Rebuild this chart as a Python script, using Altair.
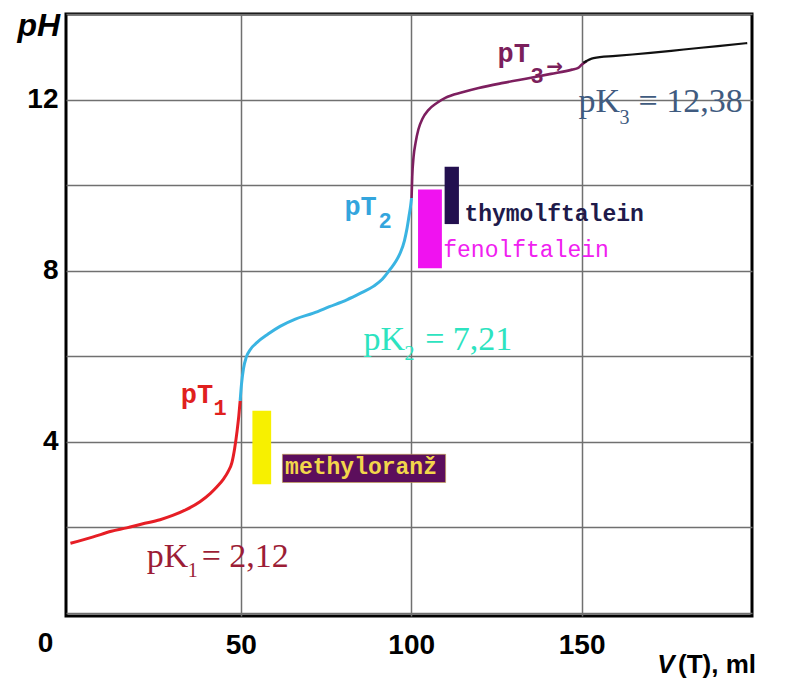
import altair as alt
import pandas as pd

# ---------------- data ----------------
# titration curve segments: volume V(T) in ml, pH
red_v = [0, 6.7, 12, 16.5, 21, 26.3, 30, 34.1, 38, 41, 43, 44.9, 46.3, 47.4, 48.2, 48.9, 49.4, 49.8]
red_ph = [1.63, 1.78, 1.91, 1.99, 2.08, 2.18, 2.28, 2.42, 2.6, 2.79, 2.95, 3.13, 3.31, 3.52, 3.85, 4.25, 4.6, 4.96]

cyan_v = [49.8, 50.2, 50.8, 51.6, 52.8, 54.7, 58, 61.5, 66, 71.3, 76, 81.1, 85, 89, 91.5, 93.8, 95.5, 96.8, 98, 98.7, 99.4, 99.8, 100.1]
cyan_ph = [4.96, 5.35, 5.72, 5.98, 6.16, 6.32, 6.52, 6.7, 6.87, 7.01, 7.16, 7.32, 7.47, 7.64, 7.8, 8.03, 8.22, 8.42, 8.7, 8.96, 9.3, 9.5, 9.7]

purple_v = [100.1, 100.3, 100.7, 101.3, 102.1, 103.3, 105.1, 107.5, 110, 115, 119.8, 127, 134.4, 141, 147.2, 149, 150.1, 151.5]
purple_ph = [9.7, 10.2, 10.67, 11.0, 11.3, 11.55, 11.76, 11.92, 12.04, 12.17, 12.27, 12.39, 12.5, 12.6, 12.7, 12.74, 12.82, 12.9]

black_v = [150.5, 153.5, 160, 170.2, 180, 190, 198.6]
black_ph = [12.86, 12.97, 13.02, 13.09, 13.17, 13.25, 13.32]

# indicator ranges (x from-to, pH from-to)
ind_names = ["methyloranž", "fenolftalein", "thymolftalein"]
ind_x1 = [53.4, 102.0, 109.8]
ind_x2 = [58.9, 109.0, 114.0]
ind_y1 = [3.01, 8.06, 9.09]
ind_y2 = [4.73, 9.90, 10.43]

# label box behind "methyloranž"
box_x = [62.2, 110.1]
box_y = [3.05, 3.71]

# axis ticks
x_ticks = [50, 100, 150]
y_grid = [0, 2, 4, 6, 8, 10, 12, 14]
y_labels = [4, 8, 12]

# ---------------- scales / encodings ----------------
XS = alt.Scale(domain=[-1.3, 200], nice=False, zero=False)
YS = alt.Scale(domain=[-0.07, 14], nice=False, zero=False)

x_axis = alt.Axis(values=x_ticks, title=None, grid=True, ticks=False, tickSize=0, domain=False,
                  labelFont="Liberation Sans", labelFontSize=28, labelFontWeight="bold",
                  labelColor="black", labelPadding=15, gridColor="#707070", gridWidth=1.5)
y_axis = alt.Axis(values=y_grid, grid=True, ticks=False, tickSize=0, domain=False,
                  labelExpr="indexof([4,8,12], datum.value) >= 0 ? datum.label : ''",
                  labelFont="Liberation Sans", labelFontSize=28, labelFontWeight="bold",
                  labelColor="black", labelPadding=8, gridColor="#707070", gridWidth=1.5,
                  title="pH", titleAngle=0, titleAlign="left", titleBaseline="alphabetic",
                  titleX=-49, titleY=21, titleFont="Liberation Sans", titleFontSize=32,
                  titleFontWeight="bold", titleFontStyle="italic", titleColor="black")


def xe(f):
    return alt.X(f, type="quantitative", scale=XS, axis=x_axis)


def ye(f):
    return alt.Y(f, type="quantitative", scale=YS, axis=y_axis)


layers = []

# grid carrier (axes)
layers.append(alt.Chart(pd.DataFrame({"x": [0], "y": [0]})).mark_point(opacity=0).encode(x=xe("x"), y=ye("y")))

# indicator bars
ind_df = pd.DataFrame({"name": ind_names, "x1": ind_x1, "x2": ind_x2, "y1": ind_y1, "y2": ind_y2})
layers.append(alt.Chart(ind_df).mark_rect().encode(
    x=xe("x1"), x2="x2", y=ye("y1"), y2="y2",
    color=alt.Color("name:N", scale=alt.Scale(domain=ind_names, range=["#f7f000", "#f012f0", "#23104f"]), legend=None)))

# box behind methyloranž label
box_df = pd.DataFrame({"x1": [box_x[0]], "x2": [box_x[1]], "y1": [box_y[0]], "y2": [box_y[1]]})
layers.append(alt.Chart(box_df).mark_rect(color="#5c0e5c", stroke="#c9a94a", strokeWidth=0.6).encode(
    x=xe("x1"), x2="x2", y=ye("y1"), y2="y2"))

# curve segments
for vs, ps, col, w in [(red_v, red_ph, "#e61e25", 3), (cyan_v, cyan_ph, "#3ab4e2", 3),
                       (purple_v, purple_ph, "#7d1f5f", 2.6), (black_v, black_ph, "#111111", 2.2)]:
    d = pd.DataFrame({"v": vs, "ph": ps})
    layers.append(alt.Chart(d).mark_line(color=col, strokeWidth=w, interpolate="monotone").encode(
        x=xe("v"), y=ye("ph"), order="v:Q"))


def txt(x, y, t, color, size, font, weight="normal", style="normal", align="left"):
    d = pd.DataFrame({"x": [x], "y": [y], "t": [t]})
    return alt.Chart(d).mark_text(color=color, fontSize=size, font=font, fontWeight=weight,
                                  fontStyle=style, align=align, baseline="alphabetic").encode(
        x=xe("x"), y=ye("y"), text="t:N")


SERIF = "Liberation Serif"
MONO = "Liberation Mono"
SANS = "Liberation Sans"

# pK labels
layers += [
    txt(22.4, 1.08, "pK", "#9c1d36", 34, SERIF), txt(34.4, 0.85, "1", "#9c1d36", 20, SERIF),
    txt(38.5, 1.08, "= 2,12", "#9c1d36", 34, SERIF),
    txt(86.0, 6.15, "pK", "#2de3c0", 34, SERIF), txt(98.0, 5.91, "2", "#2de3c0", 20, SERIF),
    txt(104.1, 6.15, "= 7,21", "#2de3c0", 34, SERIF),
    txt(149.1, 11.72, "pK", "#3f5b80", 34, SERIF), txt(161.1, 11.44, "3", "#3f5b80", 20, SERIF),
    txt(166.7, 11.72, "= 12,38", "#3f5b80", 34, SERIF),
]

# pT labels
layers += [
    txt(32.4, 4.90, "pT", "#e0201e", 27, MONO, "bold"), txt(42.0, 4.63, "1", "#e0201e", 22, MONO, "bold"),
    txt(80.4, 9.30, "pT", "#33a5dd", 27, MONO, "bold"), txt(90.4, 8.99, "2", "#33a5dd", 22, MONO, "bold"),
    txt(125.3, 12.88, "pT", "#7b1f5c", 27, MONO, "bold"), txt(135.0, 12.39, "3", "#7b1f5c", 22, MONO, "bold"),
    txt(139.6, 12.62, "→", "#7b1f5c", 20, "DejaVu Sans", "bold"),
]

# indicator labels
layers += [
    txt(63.0, 3.26, "methyloranž", "#f2d64b", 23, MONO, "bold"),
    txt(109.4, 8.33, "fenolftalein", "#f020f0", 23, MONO),
    txt(115.6, 9.17, "thymolftalein", "#201a4a", 23, MONO, "bold"),
]

# origin label and x-axis title
layers += [
    txt(-7.3, -0.90, "0", "black", 28, SANS, "bold", align="center"),
    txt(172.2, -1.40, "V", "black", 26, SANS, "bold", "italic"),
    txt(178.3, -1.40, "(T), ml", "black", 26, SANS, "bold"),
]

chart = alt.layer(*layers).properties(
    width=686, height=602,
    padding={"left": 58, "top": 6, "right": 28, "bottom": 63},
    autosize=alt.AutoSizeParams(type="none"),
    background="white",
).configure_view(stroke="black", strokeWidth=3)

chart.save("out.html", embed_options={"renderer": "svg", "actions": False})
